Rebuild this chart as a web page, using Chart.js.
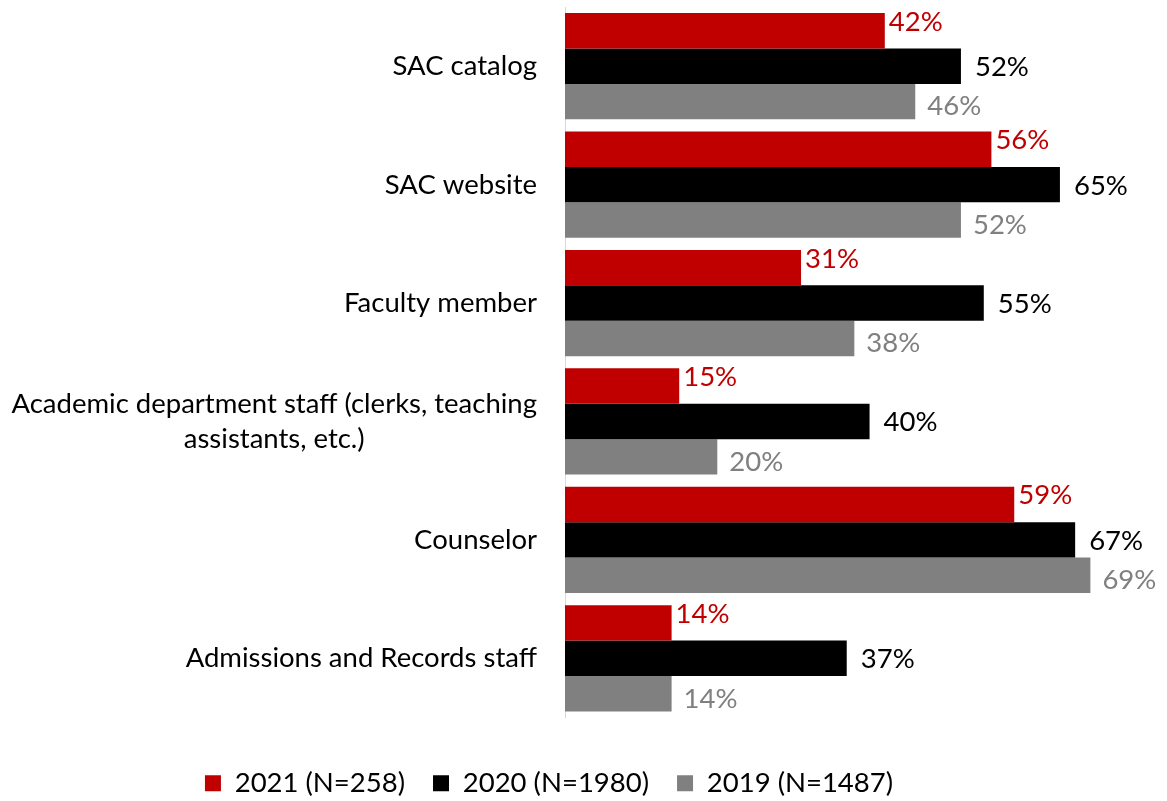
<!DOCTYPE html>
<html><head><meta charset="utf-8">
<script src="https://cdn.jsdelivr.net/npm/chart.js@4.4.1/dist/chart.umd.min.js"></script>
<style>html,body{margin:0;padding:0;background:#fff;overflow:hidden}canvas{display:block}</style>
</head><body>
<canvas id="c" width="1167" height="801"></canvas>
<script>
// ---- data ----
const categories = [
  ["SAC catalog"],
  ["SAC website"],
  ["Faculty member"],
  ["Academic department staff (clerks, teaching", "assistants, etc.)"],
  ["Counselor"],
  ["Admissions and Records staff"]
];
const seriesNames = ["2021 (N=258)", "2020 (N=1980)", "2019 (N=1487)"];
const values2021 = [42, 56, 31, 15, 59, 14];
const values2020 = [52, 65, 55, 40, 67, 37];
const values2019 = [46, 52, 38, 20, 69, 14];

// ---- style ----
const FONT = "Lato, 'Open Sans', sans-serif";
const FS = 27.5;
const colors = ["#C00000", "#000000", "#808080"];
const labelDX = [4, 14, 12];
const labelDY = [-9, 1, 5];

const labelPlugin = {
  id: 'customLabels',
  afterDatasetsDraw(chart) {
    const ctx = chart.ctx;
    const ys = chart.scales.y;
    ctx.save();
    ctx.font = FS + "px " + FONT;
    ctx.textBaseline = 'middle';
    // category labels
    ctx.fillStyle = '#000';
    const rightX = chart.chartArea.left - 28;
    categories.forEach((lines, i) => {
      const yc = ys.getPixelForValue(i);
      const lh = 35;
      const widths = lines.map(l => ctx.measureText(l).width);
      const maxW = Math.max(...widths);
      const cx = rightX - maxW / 2;
      ctx.textAlign = 'center';
      lines.forEach((l, k) => {
        const y = yc + (k - (lines.length - 1) / 2) * lh;
        ctx.fillText(l, cx, y);
      });
    });
    // value labels
    ctx.textAlign = 'left';
    chart.data.datasets.forEach((ds, di) => {
      const meta = chart.getDatasetMeta(di);
      meta.data.forEach((el, i) => {
        ctx.fillStyle = colors[di];
        ctx.fillText(ds.data[i] + '%', el.x + labelDX[di], el.y + labelDY[di]);
      });
    });
    ctx.restore();
  }
};

new Chart(document.getElementById('c'), {
  type: 'bar',
  data: {
    labels: categories,
    datasets: [
      { label: seriesNames[0], data: values2021, backgroundColor: colors[0] },
      { label: seriesNames[1], data: values2020, backgroundColor: colors[1] },
      { label: seriesNames[2], data: values2019, backgroundColor: colors[2] }
    ]
  },
  options: {
    indexAxis: 'y',
    responsive: false,
    animation: false,
    devicePixelRatio: 1,
    layout: { padding: { top: 7, right: 69, bottom: -6, left: 0 } },
    datasets: { bar: { barPercentage: 1, categoryPercentage: 0.897, borderWidth: 0 } },
    scales: {
      x: {
        min: 0, max: 70,
        ticks: { display: false },
        grid: { display: false },
        border: { display: false },
        afterFit: s => { s.height = 24; }
      },
      y: {
        ticks: { display: false },
        grid: { display: false, drawTicks: false },
        border: { display: true, color: '#d9d9d9', width: 1 },
        afterFit: s => { s.width = 565; }
      }
    },
    plugins: {
      legend: {
        position: 'bottom',
        labels: {
          boxWidth: 16, boxHeight: 16, padding: 28,
          color: '#000',
          font: { family: FONT, size: FS }
        }
      },
      tooltip: { enabled: false }
    }
  },
  plugins: [labelPlugin]
});
</script>
</body></html>
